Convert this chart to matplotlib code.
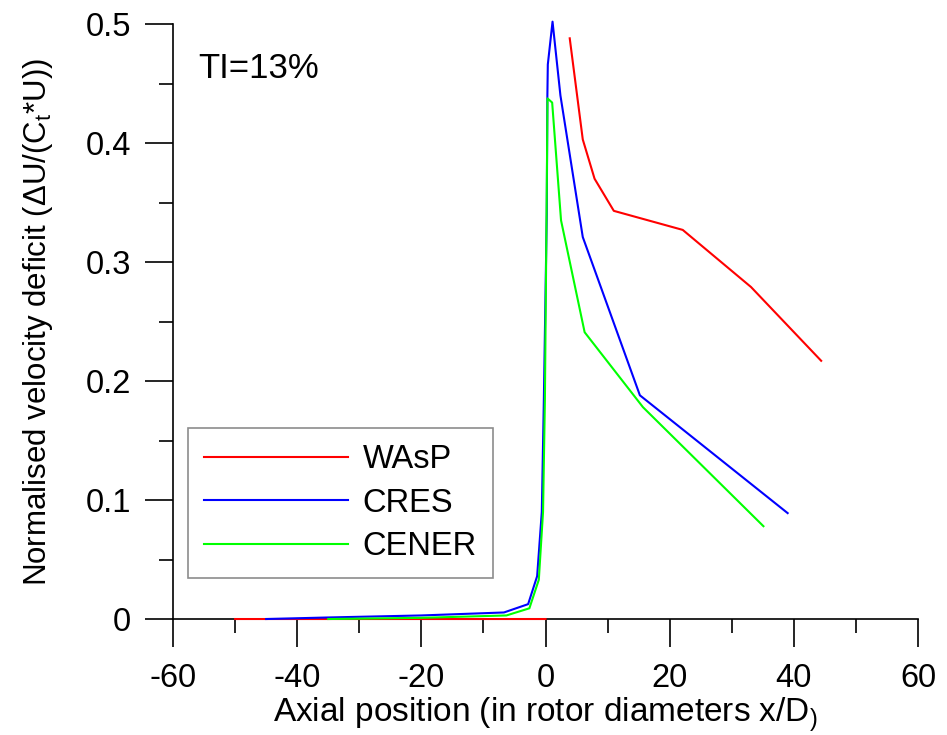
import numpy as np
import matplotlib
matplotlib.use("Agg")
import matplotlib.pyplot as plt

plt.rcParams['font.family'] = ['Liberation Sans', 'DejaVu Sans']
plt.rcParams['mathtext.default'] = 'regular'
plt.rcParams['axes.unicode_minus'] = False

# ---- data ----
# WAsP: zero line upstream, then far-wake curve (gap in between)
x_wasp = [-50, -40, -30, -20, -10, 0, np.nan, 3.9, 6.0, 7.9, 11.0, 22.1, 33.1, 44.4]
y_wasp = [0, 0, 0, 0, 0, 0, np.nan, 0.488, 0.403, 0.370, 0.343, 0.327, 0.279, 0.217]

x_cres = [-45, -35, -20, -6.7, -2.8, -1.35, -0.6, -0.27, 0.2, 0.3, 0.37, 1.13, 2.4, 6.0, 15.2, 39.0]
y_cres = [0, 0.0013, 0.003, 0.0055, 0.0125, 0.036, 0.09, 0.184, 0.34, 0.44, 0.466, 0.502, 0.440, 0.321, 0.188, 0.089]

x_cener = [-35, -20, -6.3, -2.6, -1.08, -0.4, -0.1, 0.2, 0.32, 1.07, 2.5, 6.3, 15.7, 35.1]
y_cener = [0, 0.001, 0.003, 0.009, 0.033, 0.09, 0.184, 0.36, 0.4375, 0.434, 0.335, 0.241, 0.178, 0.078]

series = [
    (x_wasp, y_wasp, '#ff0000', 'WAsP'),
    (x_cres, y_cres, '#0000ff', 'CRES'),
    (x_cener, y_cener, '#00ff00', 'CENER'),
]

fig = plt.figure(figsize=(9.47, 7.35), dpi=100)
ax = fig.add_axes([0.1827, 0.1578, 0.9694 - 0.1827, 0.9673 - 0.1578])

for i, (xs, ys, c, lab) in enumerate(series):
    ax.plot(xs, ys, color=c, lw=1.5, label=lab, clip_on=False, zorder=3 + 0.1 * i)

ax.set_xlim(-60, 60)
ax.set_ylim(0, 0.5)
ax.set_xticks(np.arange(-60, 61, 20))
ax.set_xticks(np.arange(-50, 60, 20), minor=True)
ax.set_yticks([0, 0.1, 0.2, 0.3, 0.4, 0.5])
ax.set_yticklabels(['0', '0.1', '0.2', '0.3', '0.4', '0.5'])
ax.set_yticks(np.arange(0.05, 0.5, 0.1), minor=True)

for s in ['top', 'right']:
    ax.spines[s].set_visible(False)
for s in ['left', 'bottom']:
    ax.spines[s].set_linewidth(1.2)
    ax.spines[s].set_color('black')

ax.tick_params(which='major', direction='out', length=20, width=1.2, labelsize=23.5)
ax.tick_params(which='minor', direction='out', length=10, width=1.2)
ax.tick_params(axis='x', which='major', pad=12)
ax.tick_params(axis='y', which='major', pad=10)

ax.set_xlabel('Axial position (in rotor diameters x/D$_{)}$', fontsize=24, labelpad=1)
ax.set_ylabel('Normalised velocity deficit (\u0394U/(C$_t$*U))', fontsize=22.5, labelpad=22)

ax.text(-56.0, 0.455, 'TI=13%', fontsize=25, ha='left', va='baseline')

leg = ax.legend(loc='upper left', bbox_to_anchor=(0.0201, 0.321), fontsize=23.5,
                frameon=True, fancybox=False, handlelength=4.4, handletextpad=0.45,
                borderaxespad=0, borderpad=0.5, labelspacing=0.38)
leg.get_frame().set_edgecolor('#707070')
leg.get_frame().set_linewidth(1.2)

fig.savefig('out.png', dpi=100)
